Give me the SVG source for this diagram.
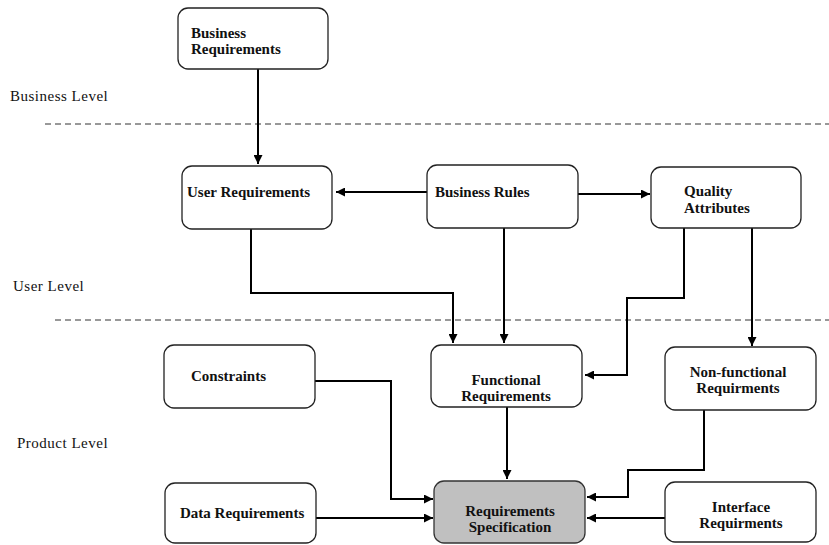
<svg xmlns="http://www.w3.org/2000/svg" width="829" height="545" viewBox="0 0 829 545">
<defs>
<marker id="ah" viewBox="0 0 10 10" refX="10" refY="5" markerWidth="9" markerHeight="9" markerUnits="userSpaceOnUse" orient="auto">
<path d="M0,0 L10,5 L0,10 z" fill="#000"/>
</marker>
<style>
.box{fill:#fff;stroke:#222;stroke-width:1.3}
.spec{fill:#c0c0c0;stroke:#333;stroke-width:1.3}
.t{font-weight:bold;font-size:15px;fill:#111}
.lvl{font-size:15px;letter-spacing:0.5px;fill:#111}
.c{fill:none;stroke:#000;stroke-width:2;marker-end:url(#ah)}
.dash{stroke:#333;stroke-width:1;stroke-dasharray:6 4}
</style>
</defs>
<rect width="829" height="545" fill="#fff"/>
<g id="levels" font-family="'Liberation Serif', 'DejaVu Serif', 'Times New Roman', serif">
<text class="lvl" x="10" y="101">Business Level</text>
<text class="lvl" x="13" y="291">User Level</text>
<text class="lvl" x="17" y="448">Product Level</text>
<line class="dash" x1="45" y1="124" x2="829" y2="124"/>
<line class="dash" x1="55" y1="320" x2="829" y2="320"/>
</g>
<g id="connectors">
<path class="c" d="M258,69 V164"/>
<path class="c" d="M427,192 H336"/>
<path class="c" d="M578,194 H650"/>
<path class="c" d="M251,228 V293 H453 V343"/>
<path class="c" d="M504,228 V343"/>
<path class="c" d="M684,228 V298 H627 V375 H585"/>
<path class="c" d="M752,228 V346"/>
<path class="c" d="M315,381 H391 V499 H433"/>
<path class="c" d="M507,406 V479"/>
<path class="c" d="M704,410 V470 H628 V497 H587"/>
<path class="c" d="M316,518 H433"/>
<path class="c" d="M665,518 H587"/>
</g>
<g font-family="'Liberation Serif', 'DejaVu Serif', 'Times New Roman', serif">
<g id="business-requirements">
<rect class="box" x="178" y="8" width="150" height="61" rx="10"/>
<text class="t" x="191" y="38">Business</text>
<text class="t" x="191" y="54">Requirements</text>
</g>
<g id="user-requirements">
<rect class="box" x="182" y="166" width="150" height="63" rx="10"/>
<text class="t" x="187" y="197">User Requirements</text>
</g>
<g id="business-rules">
<rect class="box" x="427" y="165" width="151" height="63" rx="10"/>
<text class="t" x="435" y="197">Business Rules</text>
</g>
<g id="quality-attributes">
<rect class="box" x="651" y="167" width="150" height="61" rx="10"/>
<text class="t" x="684" y="196">Quality</text>
<text class="t" x="684" y="213">Attributes</text>
</g>
<g id="constraints">
<rect class="box" x="164" y="345" width="151" height="63" rx="10"/>
<text class="t" x="191" y="381">Constraints</text>
</g>
<g id="functional-requirements">
<rect class="box" x="431" y="345" width="151" height="62" rx="10"/>
<text class="t" x="506" y="385" text-anchor="middle">Functional</text>
<text class="t" x="506" y="401" text-anchor="middle">Requirements</text>
</g>
<g id="non-functional-requirements">
<rect class="box" x="665" y="347" width="151" height="63" rx="10"/>
<text class="t" x="738" y="377" text-anchor="middle">Non-functional</text>
<text class="t" x="738" y="393" text-anchor="middle">Requirments</text>
</g>
<g id="data-requirements">
<rect class="box" x="165" y="483" width="151" height="60" rx="10"/>
<text class="t" x="180" y="518">Data Requirements</text>
</g>
<g id="requirements-specification">
<rect class="spec" x="434" y="481" width="151" height="62" rx="10"/>
<text class="t" x="510" y="516" text-anchor="middle">Requirements</text>
<text class="t" x="510" y="532" text-anchor="middle">Specification</text>
</g>
<g id="interface-requirements">
<rect class="box" x="665" y="482" width="151" height="60" rx="10"/>
<text class="t" x="741" y="512" text-anchor="middle">Interface</text>
<text class="t" x="741" y="528" text-anchor="middle">Requirments</text>
</g>
</g>
</svg>
